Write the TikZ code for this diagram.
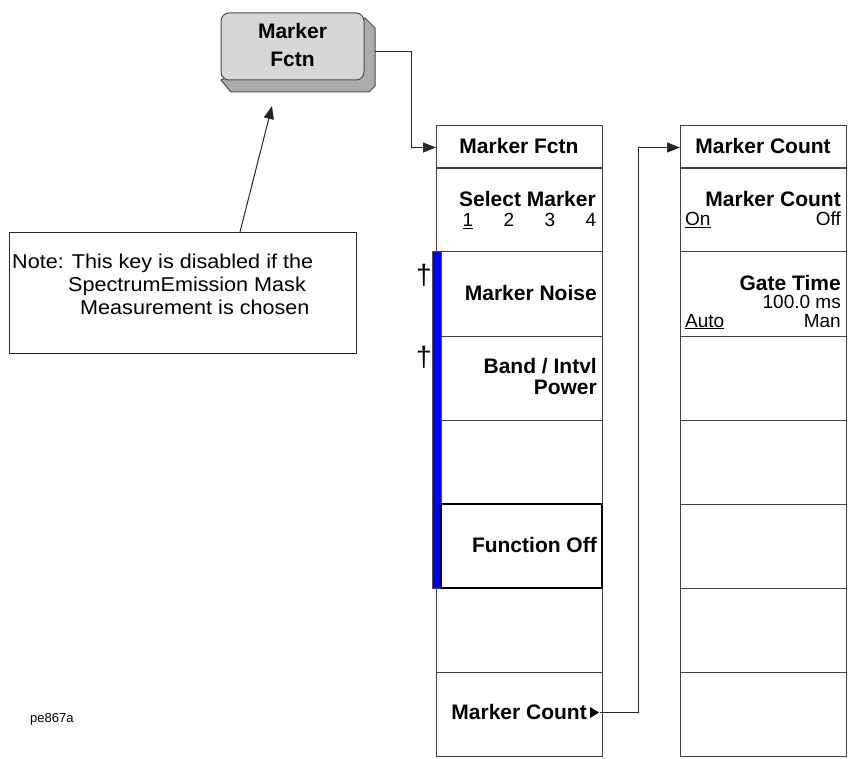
\documentclass[tikz,border=0pt]{standalone}
\usepackage{fontspec}
\setmainfont{Liberation Sans}
\newfontfamily\notefont[FakeStretch=1.08]{Liberation Sans}
\usetikzlibrary{arrows.meta}
\begin{document}
\begin{tikzpicture}[x=1pt,y=-1pt,
  cellbox/.style={draw=black!75, line width=1pt, minimum width=166pt, minimum height=84pt, inner sep=0pt, outer sep=0pt, anchor=north west},
  headbox/.style={cellbox, minimum height=43pt},
  boldlbl/.style={font=\fontsize{21}{28}\selectfont\bfseries, inner sep=0pt},
  reglbl/.style={font=\fontsize{19}{20}\selectfont, inner sep=0pt},
  daglbl/.style={font=\fontsize{28}{30}\selectfont, inner sep=0pt, anchor=base},
  notelbl/.style={font=\notefont\fontsize{20}{22}\selectfont, inner sep=0pt, anchor=base west},
  conn/.style={draw=black!85, line width=1pt},
  arr/.style={conn, -{Triangle[length=13pt,width=10pt]}},
]
\useasboundingbox (0,0) rectangle (856,759);

% ---- top button
\filldraw[fill=gray!65, draw=black!70, line width=1pt] (365,18) -- (375,28) -- (375,86) -- (369,92) -- (231,92) -- (221,80) -- cycle;
\node[draw=black!70, fill=gray!32, rounded corners=8pt, minimum width=143pt, minimum height=67pt, line width=1pt, inner sep=0pt] (btn) at (292.5,46.5) {};
\node[boldlbl, align=center] (btnt) at (292.5,45) {Marker\\Fctn};

% ---- left column
\node[headbox] (LH) at (436,126) {};
\node[cellbox] (L1) at (436,168) {};
\node[cellbox] (L2) at (436,252) {};
\node[cellbox] (L3) at (436,336) {};
\node[cellbox] (L4) at (436,420) {};
\node[cellbox] (L5) at (436,504) {};
\node[cellbox] (L6) at (436,588) {};
\node[cellbox] (L7) at (436,672) {};
\filldraw[fill={rgb,255:red,0;green,0;blue,255}, draw=black!70, line width=0.6pt] (432,251) rectangle (441,588);
\node[draw=black, line width=2pt, minimum width=161pt, minimum height=84pt, inner sep=0pt, outer sep=0pt, anchor=north west] (FO) at (441,504) {};

\node[boldlbl, anchor=base] (LHt) at (519,154) {Marker Fctn};
\node[boldlbl, anchor=base east] (L1t) at (596,207) {Select Marker};
\node[reglbl, anchor=base] (L1a) at (468,227) {\underline{1}};
\node[reglbl, anchor=base] (L1b) at (509,227) {2};
\node[reglbl, anchor=base] (L1c) at (550,227) {3};
\node[reglbl, anchor=base] (L1d) at (591,227) {4};
\node[boldlbl, anchor=base east] (L2t) at (597,300) {Marker Noise};
\node[boldlbl, anchor=base east] (L3t) at (597,373) {Band / Intvl};
\node[boldlbl, anchor=base east] (L3u) at (597,394) {Power};
\node[boldlbl, anchor=base east] (L5t) at (597,552) {Function Off};
\node[boldlbl, anchor=base east] (L7t) at (587,719) {Marker Count};
\fill[black] (590,707) -- (599,712.5) -- (590,718) -- cycle;
\coordinate (mctip) at (600,712.5);
\node[daglbl] (dag1) at (424,284) {†};
\node[daglbl] (dag2) at (424,366) {†};

% ---- right column
\node[headbox] (RH) at (680,126) {};
\node[cellbox] (R1) at (680,168) {};
\node[cellbox] (R2) at (680,252) {};
\node[cellbox] (R3) at (680,336) {};
\node[cellbox] (R4) at (680,420) {};
\node[cellbox] (R5) at (680,504) {};
\node[cellbox] (R6) at (680,588) {};
\node[cellbox] (R7) at (680,672) {};

\node[boldlbl, anchor=base] (RHt) at (763,154) {Marker Count};
\node[boldlbl, anchor=base east] (R1t) at (841,207) {Marker Count};
\node[reglbl, anchor=base west] (R1a) at (685,226) {\underline{On}};
\node[reglbl, anchor=base east] (R1b) at (841,226) {Off};
\node[boldlbl, anchor=base east] (R2t) at (841,290) {Gate Time};
\node[reglbl, anchor=base east] (R2a) at (841,308) {100.0 ms};
\node[reglbl, anchor=base west] (R2b) at (685,327) {\underline{Auto}};
\node[reglbl, anchor=base east] (R2c) at (841,327) {Man};

% ---- note
\node[draw=black!85, line width=1pt, minimum width=347pt, minimum height=121pt, anchor=north west, inner sep=0pt] (note) at (9,232) {};
\node[notelbl] (n1) at (12,269) {Note: This key is disabled if the};
\node[notelbl] (n2) at (68,291) {SpectrumEmission Mask};
\node[notelbl] (n3) at (80,314) {Measurement is chosen};

\node[font=\fontsize{13}{15}\selectfont, inner sep=0pt, anchor=base west] (tag) at (30,722) {pe867a};

% ---- connectors
\coordinate (b1) at (375,52);
\draw[arr] (b1) -- (411,52) |- (LH.west);
\draw[arr] (mctip) -- (638,712.5) |- (RH.west);
\coordinate (ntail) at (240,232);
\coordinate (ntip) at (272,106);
\draw[arr] (ntail) -- (ntip);
\end{tikzpicture}
\end{document}
